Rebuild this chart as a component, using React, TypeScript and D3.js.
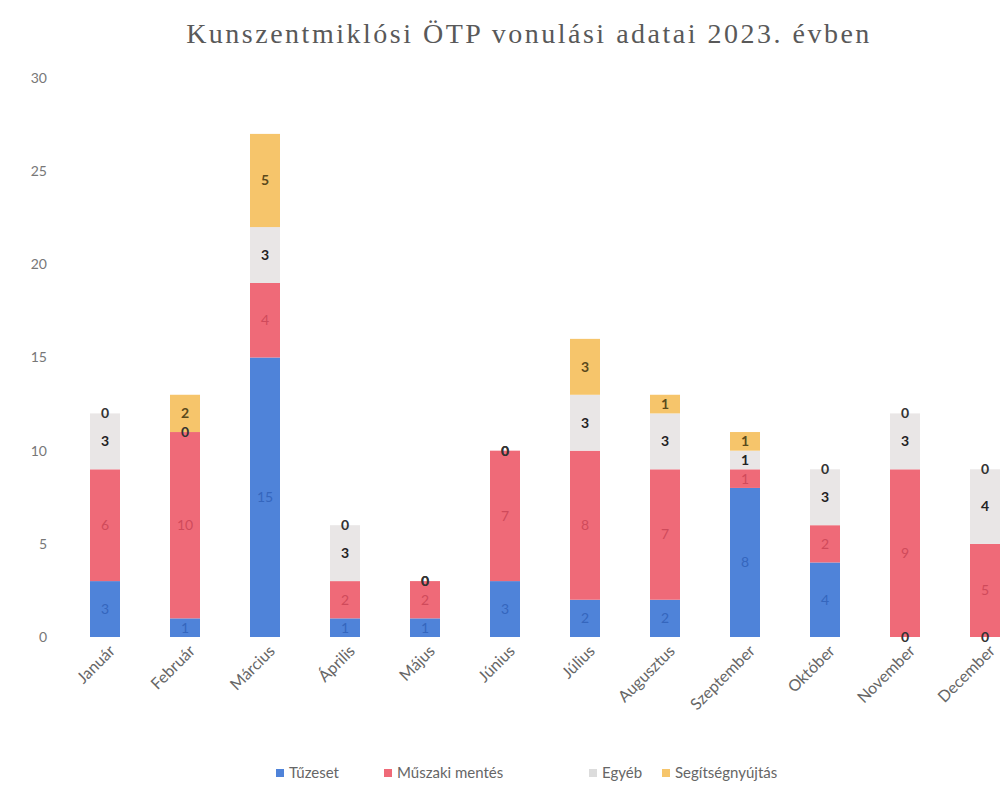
import React, { useEffect } from "react";
import * as d3 from "d3";

const months = ["Január","Február","Március","Április","Május","Június","Július","Augusztus","Szeptember","Október","November","December"];
const tuzeset = [3,1,15,1,1,3,2,2,8,4,0,0];
const muszaki = [6,10,4,2,2,7,8,7,1,2,9,5];
const egyeb = [3,0,3,3,0,0,3,3,1,3,3,4];
const segitseg = [0,2,5,0,0,0,3,1,1,0,0,0];
const seriesNames = ["Tűzeset","Műszaki mentés","Egyéb","Segítségnyújtás"];
const yTicks = [0,5,10,15,20,25,30];
const title = "Kunszentmiklósi ÖTP vonulási adatai 2023. évben";

const colors = ["#4f83d9","#ef6a78","#e9e6e6","#f6c56b"];
const labelColors = ["#3566bd","#cf4a5b","#222222","#5a4a1c"];

export default function App() {
  useEffect(() => { document.body.style.margin = "0"; }, []);
  const W = 1000, H = 787;
  const x = d3.scaleBand<string>().domain(months).range([65, 1025]).paddingInner(0.625).paddingOuter(0.3125);
  const y = d3.scaleLinear().domain([0, 30]).range([637, 78]);
  const table = months.map((m, i) => ({ month: m, s0: tuzeset[i], s1: muszaki[i], s2: egyeb[i], s3: segitseg[i] }));
  const stack = d3.stack<any>().keys(["s0","s1","s2","s3"])(table);
  const legendX = [276, 384, 589, 662];
  return (
    <svg width={W} height={H} style={{ display: "block", background: "#fff" }}>
      <text x={529} y={43} textAnchor="middle" fontFamily="Liberation Serif" fontSize={28} letterSpacing={2.5} fill="#595959">{title}</text>
      {yTicks.map(t => (
        <text key={t} x={47} y={y(t)} dy="0.35em" textAnchor="end" fontFamily="Lato" fontSize={14} fill="#777">{t}</text>
      ))}
      {stack.map((layer, si) => (
        <g key={si}>
          {layer.map((d, i) => (
            <rect key={i} x={x(months[i])} y={y(d[1])} width={x.bandwidth()} height={y(d[0]) - y(d[1])} fill={colors[si]} />
          ))}
        </g>
      ))}
      {stack.map((layer, si) => (
        <g key={"l" + si}>
          {layer.map((d, i) => {
            const v = d[1] - d[0];
            const cx = (x(months[i]) as number) + x.bandwidth() / 2;
            const cy = y((d[0] + d[1]) / 2);
            return (
              <text key={i} x={cx} y={cy} dy="0.35em" textAnchor="middle" fontFamily="Lato" fontSize={14} fontWeight={v === 0 || si >= 2 ? 700 : 400} fill={v === 0 ? "#333" : labelColors[si]}>{v}</text>
            );
          })}
        </g>
      ))}
      {months.map(m => {
        const cx = (x(m) as number) + x.bandwidth() / 2;
        return (
          <text key={m} transform={`translate(${cx + 11},${652}) rotate(-45)`} textAnchor="end" fontFamily="Lato" fontSize={16} fill="#666">{m}</text>
        );
      })}
      {seriesNames.map((n, i) => (
        <g key={n} transform={`translate(${legendX[i]},773)`}>
          <rect x={0} y={-4} width={8} height={8} fill={colors[i] === "#e9e6e6" ? "#dcdcdc" : colors[i]} />
          <text x={13} y={0} dy="0.35em" fontFamily="Lato" fontSize={15} fill="#666">{n}</text>
        </g>
      ))}
    </svg>
  );
}
